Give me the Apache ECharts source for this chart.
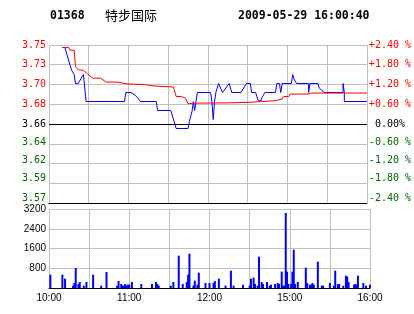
<!DOCTYPE html>
<html><head><meta charset="utf-8">
<script src="https://cdn.jsdelivr.net/npm/echarts@6/dist/echarts.min.js"></script>
<style>html,body{margin:0;padding:0;background:#fff}#c{width:414px;height:314px}</style>
</head><body><div id="c"></div>
<script>
const stockCode = '01368';
const stockName = '特步国际';
const timestamp = '2009-05-29 16:00:40';
const prevClose = 3.66;
const pctRange = 2.4;
const pctStep = 0.6;
const volMax = 3200;
const volStep = 800;
const sessionMinutes = 240;
const timeTickMinutes = [0, 60, 120, 180, 240];
const timeTickLabels = ['10:00', '11:00', '12:00', '15:00', '16:00'];

const priceMinutes = [10, 12, 15, 17, 19, 20, 22, 26, 27, 28, 57, 58, 62, 65, 67, 69, 81, 82, 92, 96, 105, 106, 108, 109, 110, 111, 112, 122, 123, 124, 125, 126, 128, 131, 136, 138, 145, 149, 152, 153, 156, 158, 160, 161, 163, 171, 172, 174, 175, 176, 183, 184, 185, 187, 196, 196, 197, 203, 204, 205, 208, 222, 222, 223, 223, 240];
const priceValues  = [3.745, 3.745, 3.73, 3.72, 3.715, 3.705, 3.705, 3.715, 3.70, 3.685, 3.685, 3.695, 3.695, 3.692, 3.689, 3.685, 3.685, 3.675, 3.675, 3.655, 3.655, 3.663, 3.674, 3.685, 3.675, 3.685, 3.695, 3.695, 3.685, 3.665, 3.685, 3.695, 3.705, 3.695, 3.705, 3.695, 3.695, 3.705, 3.705, 3.695, 3.695, 3.686, 3.686, 3.690, 3.695, 3.695, 3.705, 3.705, 3.695, 3.705, 3.705, 3.715, 3.710, 3.705, 3.705, 3.695, 3.705, 3.705, 3.700, 3.702, 3.695, 3.695, 3.705, 3.695, 3.685, 3.685];

const avgMinutes = [10, 15, 16, 19, 20, 22, 26, 29, 33, 39, 43, 52, 53, 58, 59, 73, 74, 80, 81, 94, 96, 100, 101, 103, 105, 111, 134, 150, 151, 171, 172, 176, 177, 181, 182, 196, 198, 240];
const avgValues  = [3.745, 3.745, 3.742, 3.742, 3.7234, 3.7205, 3.7196, 3.7158, 3.711, 3.711, 3.7066, 3.7066, 3.7047, 3.7047, 3.7036, 3.7036, 3.7022, 3.7022, 3.7011, 3.7011, 3.6906, 3.6906, 3.6888, 3.6888, 3.6825, 3.6832, 3.6835, 3.684, 3.6859, 3.6859, 3.6877, 3.6877, 3.6906, 3.6906, 3.6933, 3.6933, 3.6944, 3.6944];

const volMinutes = [1, 10, 12, 18, 19, 20, 22, 23, 26, 28, 33, 39, 43, 51, 52, 54, 55, 56, 57, 58, 59, 60, 62, 69, 77, 80, 81, 82, 91, 93, 97, 100, 103, 104, 105, 108, 109, 111, 112, 117, 120, 123, 124, 127, 132, 136, 138, 145, 150, 151, 153, 154, 156, 157, 159, 160, 163, 165, 166, 169, 171, 172, 174, 175, 176, 177, 178, 179, 181, 182, 183, 184, 186, 192, 193, 195, 196, 197, 198, 201, 204, 205, 210, 213, 214, 216, 217, 220, 222, 223, 224, 228, 229, 230, 231, 235, 237, 240];
const volValues  = [540, 540, 378, 95, 203, 810, 162, 243, 95, 243, 540, 95, 648, 95, 284, 162, 95, 95, 162, 95, 135, 135, 243, 162, 162, 243, 162, 95, 95, 243, 1310, 162, 243, 540, 1390, 95, 297, 135, 621, 203, 203, 203, 284, 378, 95, 702, 95, 135, 95, 378, 419, 162, 95, 1269, 243, 162, 243, 95, 135, 162, 203, 162, 662, 95, 95, 3038, 662, 162, 162, 662, 1553, 162, 243, 824, 203, 135, 135, 203, 135, 1067, 95, 95, 203, 95, 702, 162, 162, 95, 500, 459, 243, 135, 162, 135, 500, 203, 95, 135];

const RED = '#ff0000', GREEN = '#006400', GRID = '#c0c0c0';
const monoFont = '"DejaVu Sans Mono"';
const isZero = v => Math.abs(v) < 1e-9;
const pctColor = v => { v = Number(v); return isZero(v) ? '#000' : (v > 0 ? RED : GREEN); };
// lower labels sit a little above their grid lines in the reference
const lowLift = { '-0.6': 'a', '-1.2': 'b', '-1.8': 'c', '-2.4': 'd' };
const liftRich = c => ({
  a: { color: c, fontFamily: monoFont, fontSize: 10, padding: [0, 0, 3, 0] },
  b: { color: c, fontFamily: monoFont, fontSize: 10, padding: [0, 0, 6, 0] },
  c: { color: c, fontFamily: monoFont, fontSize: 10, padding: [0, 0, 9, 0] },
  d: { color: c, fontFamily: monoFont, fontSize: 10, padding: [0, 0, 10, 0] }
});
const wrapLift = (v, txt) => { const k = lowLift[String(Math.round(Number(v) * 10) / 10)]; return k ? '{' + k + '|' + txt + '}' : txt; };

const priceData = priceMinutes.map((m, i) => [m, priceValues[i]]);
const avgData = avgMinutes.map((m, i) => [m, avgValues[i]]);
const volData = volMinutes.map((m, i) => [m, volValues[i]]);

const chart = echarts.init(document.getElementById('c'));
const xBase = {
  type: 'value', min: 0, max: sessionMinutes, interval: 30,
  axisTick: { show: false },
  splitLine: { show: true, lineStyle: { color: GRID, width: 1 } },
  axisLine: { show: true, onZero: false, lineStyle: { color: '#000', width: 1 } }
};
chart.setOption({
  animation: false,
  backgroundColor: '#fff',
  graphic: [
    { type: 'text', left: 50, top: 10.5, style: { text: stockCode, font: 'bold 11.5px ' + monoFont, fill: '#000' } },
    { type: 'text', left: 105, top: 8.5, style: { text: stockName, font: '13px "Noto Sans CJK SC"', fill: '#000' } },
    { type: 'text', left: 238, top: 10.5, style: { text: timestamp, font: 'bold 11.5px ' + monoFont, fill: '#000' } }
  ],
  grid: [
    { left: 49, top: 45, width: 321, height: 158, containLabel: false },
    { left: 49, top: 209, width: 321, height: 79, containLabel: false }
  ],
  xAxis: [
    Object.assign({}, xBase, { gridIndex: 0, axisLabel: { show: false } }),
    Object.assign({}, xBase, { gridIndex: 1, axisLabel: {
      show: true, margin: 5, showMinLabel: true, showMaxLabel: true,
      fontFamily: 'Liberation Sans', fontSize: 10, color: '#000',
      formatter: v => { const i = timeTickMinutes.indexOf(Number(v)); return i >= 0 ? timeTickLabels[i] : ''; }
    } })
  ],
  yAxis: [
    { type: 'value', gridIndex: 0, position: 'left', min: -pctRange, max: pctRange, interval: pctStep,
      axisLine: { show: false }, axisTick: { show: false },
      splitLine: { show: true, lineStyle: { color: GRID, width: 1 } },
      axisLabel: { margin: 3, fontFamily: monoFont, fontSize: 10, showMinLabel: true, showMaxLabel: true,
        color: v => pctColor(v), rich: liftRich(GREEN),
        formatter: v => wrapLift(v, (prevClose * (1 + Number(v) / 100)).toFixed(2)) } },
    { type: 'value', gridIndex: 0, position: 'right', min: -pctRange, max: pctRange, interval: pctStep,
      axisLine: { show: false }, axisTick: { show: false }, splitLine: { show: false },
      axisLabel: { margin: 2, fontFamily: monoFont, fontSize: 10, showMinLabel: true, showMaxLabel: true,
        color: v => pctColor(v), rich: liftRich(GREEN),
        formatter: v => { const n = Number(v); if (isZero(n)) return ' 0.00%'; return wrapLift(n, (n > 0 ? '+' : '') + n.toFixed(2) + ' %'); } } },
    { type: 'value', gridIndex: 0, show: false, min: prevClose * (1 - pctRange / 100), max: prevClose * (1 + pctRange / 100),
      splitLine: { show: false } },
    { type: 'value', gridIndex: 1, min: 0, max: volMax, interval: volStep,
      axisLine: { show: false }, axisTick: { show: false },
      splitLine: { show: true, lineStyle: { color: GRID, width: 1 } },
      axisLabel: { margin: 3, fontFamily: 'Liberation Sans', fontSize: 10, color: '#000', padding: [6, 0, 0, 0],
        showMaxLabel: true,
        formatter: v => Number(v) === 0 ? '' : String(v) } }
  ],
  series: [
    { type: 'line', name: 'price', xAxisIndex: 0, yAxisIndex: 2, data: priceData, symbol: 'none',
      lineStyle: { color: '#0000ff', width: 1 }, silent: true,
      markLine: { silent: true, symbol: ['none', 'none'], label: { show: false },
        lineStyle: { color: '#000', width: 1, type: 'solid' }, data: [{ yAxis: prevClose }] } },
    { type: 'line', name: 'avg', xAxisIndex: 0, yAxisIndex: 2, data: avgData, symbol: 'none',
      lineStyle: { color: RED, width: 1 }, silent: true },
    { type: 'bar', name: 'vol', xAxisIndex: 1, yAxisIndex: 3, data: volData, barWidth: 2,
      itemStyle: { color: '#0000ff' }, silent: true }
  ]
});
</script></body></html>
